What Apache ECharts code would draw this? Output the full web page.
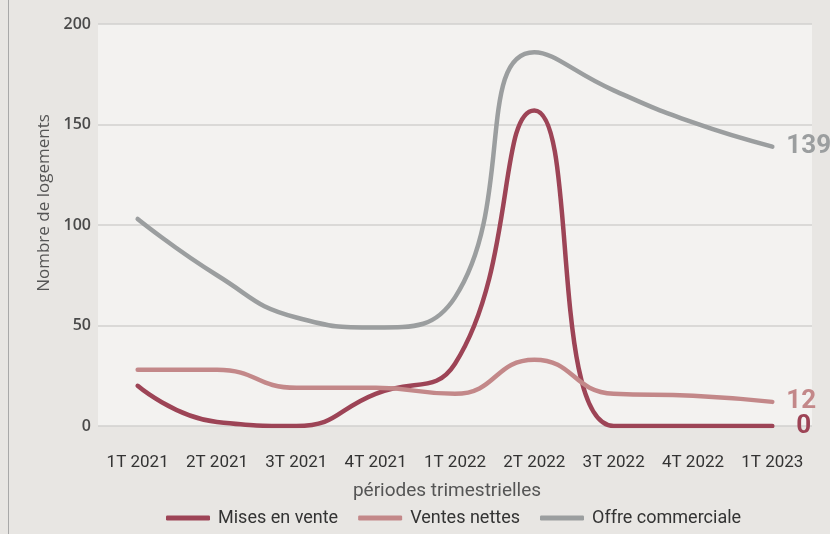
<!DOCTYPE html>
<html><head><meta charset="utf-8">
<script src="https://cdn.jsdelivr.net/npm/echarts@6/dist/echarts.min.js"></script>
<style>html,body{margin:0;padding:0;background:#e8e6e3;}#c{width:830px;height:534px;}</style>
</head><body><div id="c"></div>
<script>
var categories = ['1T 2021','2T 2021','3T 2021','4T 2021','1T 2022','2T 2022','3T 2022','4T 2022','1T 2023'];
var misesEnVente = [20, 2, 0, 16, 31, 157, 0, 0, 0];
var ventesNettes = [28, 28, 19, 19, 16, 33, 16, 15, 12];
var offreCommerciale = [103, 75, 54, 49, 64, 186, 167, 151, 139];
var yTicks = [0, 50, 100, 150, 200];

var cond = 'Roboto, sans-serif';
var colors = {mev:'#9d4456', vn:'#c38889', oc:'#9b9e9f'};
function mk(name, data, color, dist){
  return {name:name, type:'line', data:data, smooth:0.5, symbol:'none',
    lineStyle:{width:4.5, color:color, cap:'round'}, itemStyle:{color:color},
    endLabel:{show:true, distance:dist, color:color, fontFamily:'"Roboto", sans-serif', fontWeight:'bold', fontSize:26,
      formatter:function(p){return p.value;}}};
}
var chart = echarts.init(document.getElementById('c'), null, {renderer:'canvas'});
chart.setOption({
  backgroundColor:'#e8e6e3',
  animation:false,
  graphic:[{type:'line', shape:{x1:8.5,y1:0,x2:8.5,y2:534}, style:{stroke:'#a8a8a8', lineWidth:1}}],
  grid:{left:98, right:18, top:24, bottom:108, show:true, backgroundColor:'#f3f2f0', borderWidth:0},
  legend:{left:161, top:504, itemWidth:44, itemHeight:5, itemGap:20, icon:'roundRect',
    textStyle:{fontFamily:cond, fontSize:18, color:'#333', padding:[0,0,0,3]},
    data:['Mises en vente','Ventes nettes','Offre commerciale']},
  xAxis:{type:'category', data:categories, boundaryGap:true,
    axisLine:{show:false}, axisTick:{show:false},
    axisLabel:{interval:0, margin:28, fontFamily:cond, fontSize:17, color:'#333'},
    name:'périodes trimestrielles', nameLocation:'middle', nameGap:56,
    nameTextStyle:{fontFamily:cond, fontSize:19, color:'#555', padding:[0,16,0,0]}},
  yAxis:{type:'value', min:0, max:200, interval:50,
    axisLine:{show:false}, axisTick:{show:false},
    splitLine:{lineStyle:{color:'#d2d1cf', width:1.5}},
    axisLabel:{margin:7, fontFamily:'"Open Sans", sans-serif', fontWeight:600, fontSize:16, color:'#4a4a4a',
      formatter:function(v){return yTicks.indexOf(v)>=0? String(v):'';}},
    name:'Nombre de logements', nameLocation:'middle', nameGap:44,
    nameTextStyle:{fontFamily:'"Open Sans", sans-serif', fontSize:17, color:'#555', padding:[0,0,0,44]}},
  series:[
    mk('Mises en vente', misesEnVente, colors.mev, 24),
    mk('Ventes nettes', ventesNettes, colors.vn, 14),
    mk('Offre commerciale', offreCommerciale, colors.oc, 14)
  ]
});
</script></body></html>
